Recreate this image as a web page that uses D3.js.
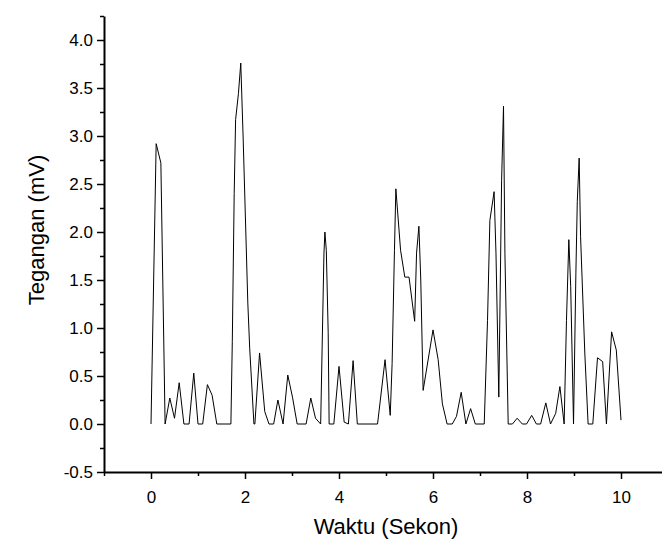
<!DOCTYPE html>
<html>
<head>
<meta charset="utf-8">
<script src="https://cdn.jsdelivr.net/npm/d3@7"></script>
<style>
  body { margin: 0; background: #fff; }
  svg { display: block; font-family: "Liberation Sans", Arial, sans-serif; }
  .axis path, .axis line { stroke: #000; }
  .axis text { fill: #000; }
</style>
</head>
<body>
<svg id="chart" width="662" height="541"></svg>
<script>
// waktu (s) dan tegangan (mV)
const waktu = [
  0.00, 0.11, 0.21, 0.30, 0.40, 0.50, 0.60, 0.70, 0.81, 0.91,
  1.00, 1.10, 1.20, 1.30, 1.40, 1.70, 1.73, 1.77, 1.80, 1.86,
  1.91, 1.96, 2.06, 2.10, 2.19, 2.21, 2.31, 2.42, 2.51, 2.61,
  2.70, 2.81, 2.91, 3.01, 3.11, 3.30, 3.40, 3.50, 3.61, 3.64,
  3.68, 3.70, 3.73, 3.77, 3.79, 3.89, 4.00, 4.11, 4.20, 4.30,
  4.39, 4.82, 4.98, 5.09, 5.13, 5.18, 5.21, 5.31, 5.40, 5.49,
  5.61, 5.65, 5.70, 5.74, 5.79, 6.00, 6.11, 6.20, 6.30, 6.41,
  6.50, 6.60, 6.70, 6.80, 6.90, 7.09, 7.16, 7.21, 7.30, 7.34,
  7.40, 7.46, 7.50, 7.53, 7.60, 7.69, 7.79, 7.90, 7.99, 8.10,
  8.20, 8.29, 8.40, 8.50, 8.61, 8.70, 8.79, 8.84, 8.89, 8.93,
  8.99, 9.04, 9.07, 9.11, 9.14, 9.23, 9.30, 9.40, 9.50, 9.61,
  9.69, 9.80, 9.90, 10.00
];
const tegangan = [
  0.00, 2.92, 2.72, 0.00, 0.27, 0.06, 0.43, 0.00, 0.00, 0.53,
  0.00, 0.00, 0.41, 0.30, 0.00, 0.00, 0.86, 2.40, 3.17, 3.44,
  3.76, 2.99, 1.26, 0.79, 0.00, 0.00, 0.74, 0.13, 0.00, 0.00,
  0.25, 0.00, 0.51, 0.28, 0.00, 0.00, 0.27, 0.06, 0.00, 0.77,
  1.78, 2.00, 1.81, 0.95, 0.00, 0.00, 0.60, 0.02, 0.00, 0.66,
  0.00, 0.00, 0.67, 0.09, 0.63, 1.81, 2.45, 1.81, 1.53, 1.53,
  1.07, 1.78, 2.06, 1.50, 0.35, 0.98, 0.67, 0.21, 0.00, 0.00,
  0.08, 0.33, 0.00, 0.16, 0.00, 0.00, 1.08, 2.12, 2.42, 1.78,
  0.28, 2.54, 3.31, 1.78, 0.00, 0.00, 0.06, 0.00, 0.00, 0.09,
  0.00, 0.00, 0.22, 0.00, 0.11, 0.39, 0.00, 1.08, 1.92, 1.43,
  0.00, 1.57, 2.32, 2.77, 1.95, 0.74, 0.00, 0.00, 0.69, 0.65,
  0.00, 0.96, 0.77, 0.04
];

const xMajor = [0, 2, 4, 6, 8, 10];
const xMinor = [-1, 1, 3, 5, 7, 9, 11];
const yMajor = [-0.5, 0, 0.5, 1, 1.5, 2, 2.5, 3, 3.5, 4];
const yMinor = [-0.25, 0.25, 0.75, 1.25, 1.75, 2.25, 2.75, 3.25, 3.75, 4.25];

const margin = { top: 16, left: 104, bottom: 69 },
    width = 564,
    height = 541 - margin.top - margin.bottom;

const svg = d3.select("#chart");
const g = svg.append("g")
    .attr("transform", "translate(" + margin.left + "," + margin.top + ")");

const x = d3.scaleLinear().domain([-1, 11]).range([0, width]);
const y = d3.scaleLinear().domain([-0.5, 4.25]).range([height, 0]);

// plain hyphen for negatives, like the original
const yFmt = d => d3.format(".1f")(d).replace("\u2212", "-");

// minor ticks first, majors on top
g.append("g").attr("class", "axis")
    .attr("transform", "translate(0," + height + ")")
    .call(d3.axisBottom(x).tickValues(xMinor).tickSize(4).tickFormat(""))
    .call(s => s.select(".domain").remove())
    .selectAll("line").attr("stroke-width", 1.5);

const xAxis = g.append("g").attr("class", "axis")
    .attr("transform", "translate(0," + height + ")")
    .call(d3.axisBottom(x).tickValues(xMajor).tickSize(7).tickSizeOuter(0).tickPadding(12).tickFormat(d3.format("d")));
xAxis.select(".domain").attr("stroke-width", 2);
xAxis.selectAll("line").attr("stroke-width", 1.5);
xAxis.selectAll("text").style("font-size", "17px");

g.append("g").attr("class", "axis")
    .call(d3.axisLeft(y).tickValues(yMinor).tickSize(4).tickFormat(""))
    .call(s => s.select(".domain").remove())
    .selectAll("line").attr("stroke-width", 1.5);

const yAxis = g.append("g").attr("class", "axis")
    .call(d3.axisLeft(y).tickValues(yMajor).tickSize(7).tickSizeOuter(0).tickPadding(4).tickFormat(yFmt));
yAxis.select(".domain").attr("stroke-width", 2);
yAxis.selectAll("line").attr("stroke-width", 1.5);
yAxis.selectAll("text").style("font-size", "17px");

// the signal
const line = d3.line()
    .x((d, i) => x(waktu[i]))
    .y(d => y(d));

g.append("path")
    .datum(tegangan)
    .attr("fill", "none")
    .attr("stroke", "#000")
    .attr("stroke-width", 1)
    .attr("d", line);

// axis titles
svg.append("text")
    .attr("x", 386)
    .attr("y", 534)
    .attr("text-anchor", "middle")
    .style("font-size", "22px")
    .text("Waktu (Sekon)");

svg.append("text")
    .attr("transform", "translate(44,230) rotate(-90)")
    .attr("text-anchor", "middle")
    .style("font-size", "22px")
    .text("Tegangan (mV)");
</script>
</body>
</html>
